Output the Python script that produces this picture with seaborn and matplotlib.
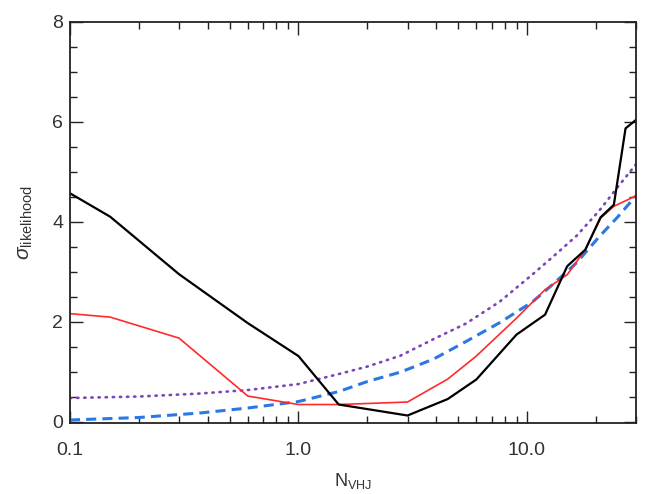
import numpy as np
import pandas as pd
import seaborn as sns
import matplotlib
matplotlib.use("Agg")
import matplotlib.pyplot as plt
from matplotlib.ticker import LogLocator, NullFormatter, FixedLocator, FixedFormatter, MultipleLocator

# ---- data ----
n_grid = [0.1, 0.15, 0.3, 0.6, 1.0, 1.5, 3.0, 4.5, 6.0, 9.0, 12.0, 15.0, 18.0, 21.0, 24.0, 27.0, 30.0]
sigma_black = [4.57, 4.10, 2.95, 1.97, 1.31, 0.34, 0.12, 0.45, 0.84, 1.74, 2.14, 3.11, 3.44, 4.09, 4.34, 5.87, 6.04]
sigma_red = [2.16, 2.09, 1.67, 0.51, 0.34, 0.34, 0.39, 0.85, 1.31, 2.07, 2.64, 2.94, 3.44, 4.07, 4.31, 4.42, 4.52]

n_smooth = [0.1, 0.2, 0.37, 0.6, 1.0, 1.5, 2.0, 2.8, 3.9, 5.4, 7.6, 10.6, 13.0, 16.5, 20.7, 25.0, 30.0]
sigma_blue = [0.03, 0.08, 0.17, 0.27, 0.40, 0.60, 0.80, 0.99, 1.25, 1.60, 1.98, 2.40, 2.75, 3.18, 3.70, 4.10, 4.52]
sigma_purple = [0.47, 0.50, 0.56, 0.63, 0.75, 0.95, 1.10, 1.32, 1.65, 1.96, 2.40, 2.95, 3.30, 3.72, 4.22, 4.70, 5.15]

x_ticks = [0.1, 1.0, 10.0]
x_ticklabels = ["0.1", "1.0", "10.0"]
y_ticks = [0, 2, 4, 6, 8]

sns.set_style("ticks")
plt.rcParams['font.family'] = ['Liberation Sans', 'DejaVu Sans']
plt.rcParams['mathtext.fontset'] = 'custom'
plt.rcParams['mathtext.rm'] = 'Liberation Sans'
plt.rcParams['mathtext.it'] = 'Liberation Sans:italic'

fig = plt.figure(figsize=(6.46, 4.94), dpi=100)
ax = fig.add_axes([70/646, 71/494, 566/646, 401/494])

df_main = pd.DataFrame({"n": n_grid, "black": sigma_black, "red": sigma_red})
df_smooth = pd.DataFrame({"n": n_smooth, "blue": sigma_blue, "purple": sigma_purple})

sns.lineplot(data=df_smooth, x="n", y="purple", ax=ax, color="#7a45b8", lw=1.9,
             linestyle=(0, (0.5, 2.2)), dash_capstyle="round")
sns.lineplot(data=df_smooth, x="n", y="blue", ax=ax, color="#2a78e4", lw=2.2,
             linestyle=(0, (3.3, 2.0)))
sns.lineplot(data=df_main, x="n", y="red", ax=ax, color="#ff2a2a", lw=1.2)
sns.lineplot(data=df_main, x="n", y="black", ax=ax, color="black", lw=1.6)

ax.set_xscale("log")
ax.set_xlim(0.1, 30)
ax.set_ylim(-0.03, 8)

ax.xaxis.set_major_locator(FixedLocator(x_ticks))
ax.xaxis.set_major_formatter(FixedFormatter(x_ticklabels))
ax.xaxis.set_minor_locator(LogLocator(base=10, subs=np.arange(2, 10)))
ax.xaxis.set_minor_formatter(NullFormatter())
ax.yaxis.set_major_locator(FixedLocator(y_ticks))
ax.yaxis.set_minor_locator(MultipleLocator(0.5))

ax.tick_params(which="both", direction="in", top=True, right=True, color="#222222", width=1.0)
ax.tick_params(which="major", length=9, labelsize=14, labelcolor="#333333")
ax.tick_params(axis="x", which="major", pad=14)
ax.tick_params(axis="y", which="major", pad=5)
ax.tick_params(which="minor", length=5)
for s in ax.spines.values():
    s.set_linewidth(1.3)
    s.set_color("#222222")

ax.set_xlabel(r"$\mathrm{N}_{\mathrm{VHJ}}$", fontsize=13, color="#333333", labelpad=8)
ax.set_ylabel(r"$\sigma_{\mathrm{likelihood}}$", fontsize=15, color="#333333", labelpad=12)

fig.savefig("out.png", dpi=100)
